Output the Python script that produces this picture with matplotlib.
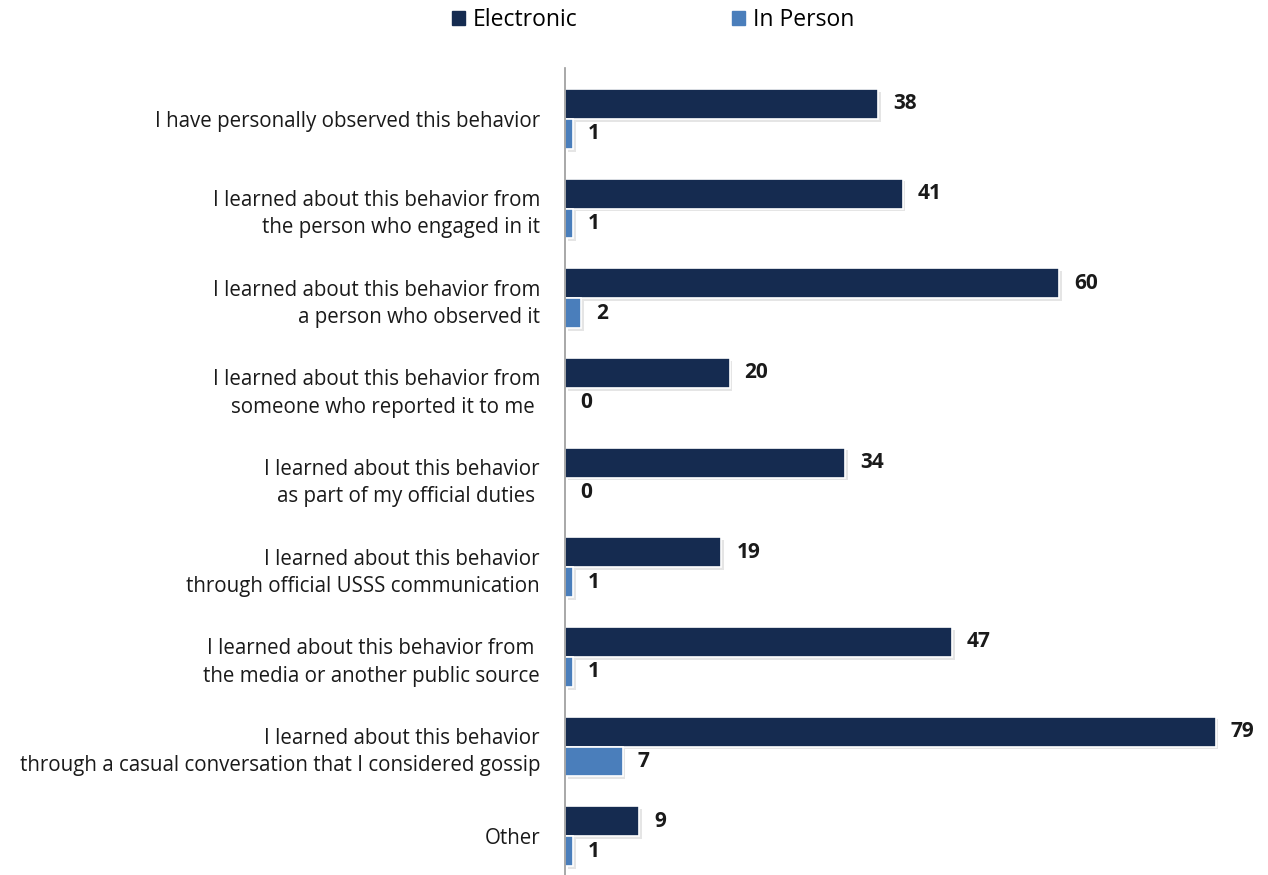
import matplotlib.pyplot as plt
import matplotlib.patheffects as pe
import numpy as np

plt.rcParams['font.family'] = ['Open Sans', 'DejaVu Sans']

categories = [
    "I have personally observed this behavior",
    "I learned about this behavior from\nthe person who engaged in it",
    "I learned about this behavior from\na person who observed it",
    "I learned about this behavior from\nsomeone who reported it to me ",
    "I learned about this behavior\nas part of my official duties ",
    "I learned about this behavior\nthrough official USSS communication",
    "I learned about this behavior from \nthe media or another public source",
    "I learned about this behavior\nthrough a casual conversation that I considered gossip",
    "Other",
]
electronic = [38, 41, 60, 20, 34, 19, 47, 79, 9]
in_person = [1, 1, 2, 0, 0, 1, 1, 7, 1]

c_elec = '#152b50'
c_pers = '#4a7ebb'

fig = plt.figure(figsize=(12.68, 8.75), dpi=100)
ax = fig.add_axes([565 / 1268, 0, 700 / 1268, 807 / 875])

y = np.arange(len(categories))
h = 0.334
shadow = [pe.SimplePatchShadow(offset=(2, -2), shadow_rgbFace='#aaaaaa', alpha=0.3), pe.Normal()]

b1 = ax.barh(y - h / 2, electronic, height=h, color=c_elec, edgecolor='white',
             linewidth=1.2, label='Electronic')
b2 = ax.barh(y + h / 2, in_person, height=h, color=c_pers, edgecolor='white',
             linewidth=1.2, label='In Person')
for bars in (b1, b2):
    for p in bars:
        p.set_path_effects(shadow)

for yy, v in zip(y - h / 2, electronic):
    ax.text(v + 1.8, yy, str(v), va='center', ha='left', fontsize=15,
            fontweight='bold', color='#1a1a1a')
for yy, v in zip(y + h / 2, in_person):
    ax.text(v + 1.8, yy, str(v), va='center', ha='left', fontsize=15,
            fontweight='bold', color='#1a1a1a')

ax.set_xlim(0, 85)
ax.set_ylim(-0.567 + 9.0, -0.567)
ax.set_yticks(y)
ax.set_yticklabels(categories, fontsize=14.8, color='#1a1a1a', ha='right',
                   multialignment='right', linespacing=1.4)
ax.tick_params(axis='y', length=0, pad=18)
ax.set_xticks([])
for s in ('top', 'right', 'bottom'):
    ax.spines[s].set_visible(False)
ax.spines['left'].set_color('#999999')
ax.spines['left'].set_linewidth(1.2)

# plain legend handles, without the bar shadow
h1 = plt.Rectangle((0, 0), 1, 1, color=c_elec)
h2 = plt.Rectangle((0, 0), 1, 1, color=c_pers)
fig.legend(handles=[h1, h2], labels=['Electronic', 'In Person'], loc='upper center',
           bbox_to_anchor=(0.515, 1.014), ncol=2, frameon=False, fontsize=16.5,
           handlelength=0.55, handleheight=0.55, handletextpad=0.35, columnspacing=6.75)

fig.savefig('out.png', dpi=100)
